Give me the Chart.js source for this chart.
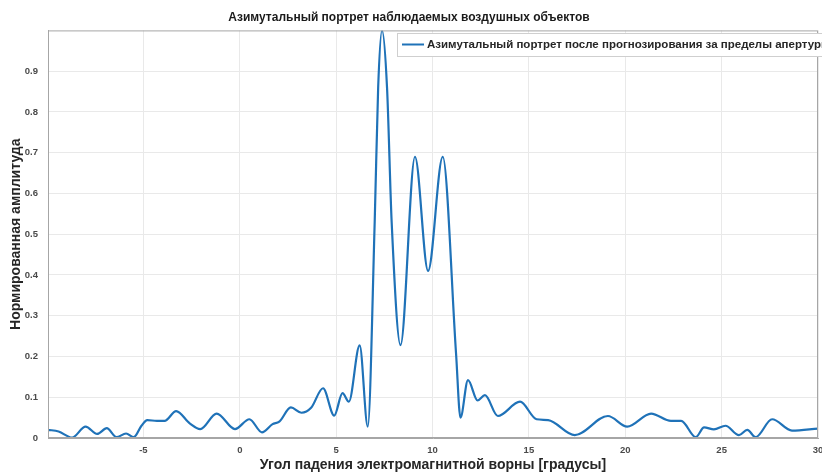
<!DOCTYPE html>
<html>
<head>
<meta charset="utf-8">
<script src="https://cdn.jsdelivr.net/npm/chart.js@4.4.1/dist/chart.umd.min.js"></script>
<style>
  html, body { margin: 0; padding: 0; background: #ffffff; }
  #wrap { width: 822px; height: 476px; }
</style>
</head>
<body>
<div id="wrap"><canvas id="c" width="822" height="476"></canvas></div>
<script>
// Texts
const chartTitle = 'Азимутальный портрет наблюдаемых воздушных объектов';
const xAxisTitle = 'Угол падения электромагнитной ворны [градусы]';
const yAxisTitle = 'Нормированная амплитуда';
const seriesLabel = 'Азимутальный портрет после прогнозирования за пределы апертуры';

// Angle of arrival, degrees
const angles = [
  -9.95, -9.4, -8.7, -8.0, -7.4, -6.9, -6.4, -5.9, -5.5, -5.1,
  -4.8, -4.3, -3.9, -3.3, -2.6, -2.05, -1.2, -0.25, 0.5, 1.15,
  1.7, 2.05, 2.65, 3.2, 3.7, 4.32, 4.9, 5.33, 5.66, 6.22,
  6.64, 7.0, 7.18, 7.38, 7.64, 7.88, 8.34, 9.09,
  9.77, 10.53, 11.22, 11.45, 11.84, 12.34, 12.72, 13.39,
  14.54, 15.4, 16.0, 17.38, 19.1, 20.1, 21.34, 22.37, 22.9, 23.66,
  24.09, 24.6, 25.2, 25.9, 26.33, 26.76, 27.62, 28.65, 30.0
];

// Normalised amplitude
const amplitudes = [
  0.020, 0.016, 0.001, 0.028, 0.010, 0.024, 0.002, 0.011, 0.002, 0.030,
  0.044, 0.042, 0.042, 0.066, 0.036, 0.022, 0.060, 0.022, 0.046, 0.014,
  0.034, 0.040, 0.075, 0.062, 0.074, 0.122, 0.055, 0.110, 0.089, 0.227,
  0.028, 0.530, 0.860, 1.000, 0.860, 0.530, 0.228, 0.690,
  0.410, 0.690, 0.208, 0.050, 0.142, 0.092, 0.105, 0.054,
  0.089, 0.046, 0.044, 0.007, 0.054, 0.028, 0.060, 0.042, 0.042, 0.002,
  0.026, 0.021, 0.030, 0.007, 0.020, 0.002, 0.046, 0.018, 0.023
];

// Tick labels
const xTickValues = [-5, 0, 5, 10, 15, 20, 25, 30];
const yTickValues = [0, 0.1, 0.2, 0.3, 0.4, 0.5, 0.6, 0.7, 0.8, 0.9];

const FONT = "'Liberation Sans', Arial, sans-serif";
const LINE_COLOR = '#1f72b8';

// Frame around the plotting area
const framePlugin = {
  id: 'frame',
  afterDatasetsDraw(chart) {
    const { ctx, chartArea: a } = chart;
    ctx.save();
    ctx.strokeStyle = '#a6a6a6';
    ctx.lineWidth = 1;
    ctx.strokeRect(a.left + 0.5, a.top + 0.5, a.right - a.left - 1, a.bottom - a.top - 1);
    ctx.restore();
  }
};

// Legend box in the upper right corner of the plot
const legendBoxPlugin = {
  id: 'legendBox',
  afterDraw(chart) {
    const { ctx } = chart;
    const ds = chart.data.datasets[0];
    const x = 397, y = 33, h = 23;
    ctx.save();
    ctx.fillStyle = '#ffffff';
    ctx.fillRect(x, y, chart.width - x + 10, h);
    ctx.strokeStyle = '#cfcfcf';
    ctx.lineWidth = 1;
    ctx.strokeRect(x + 0.5, y + 0.5, chart.width - x + 10, h);
    const cy = y + h / 2;
    ctx.strokeStyle = ds.borderColor;
    ctx.lineWidth = 2;
    ctx.beginPath();
    ctx.moveTo(x + 5, cy);
    ctx.lineTo(x + 27, cy);
    ctx.stroke();
    ctx.fillStyle = '#262626';
    ctx.font = "bold 11.5px " + FONT;
    ctx.textBaseline = 'middle';
    ctx.textAlign = 'left';
    ctx.fillText(ds.label, x + 30, cy + 0.5);
    ctx.restore();
  }
};

new Chart(document.getElementById('c'), {
  type: 'line',
  data: {
    datasets: [{
      label: seriesLabel,
      data: angles.map((a, i) => ({ x: a, y: amplitudes[i] })),
      borderColor: LINE_COLOR,
      backgroundColor: LINE_COLOR,
      borderWidth: 2.2,
      pointRadius: 0,
      cubicInterpolationMode: 'monotone',
      fill: false
    }]
  },
  options: {
    responsive: false,
    devicePixelRatio: 1,
    animation: false,
    layout: { padding: { left: 0, right: 4, top: 0, bottom: 0 } },
    plugins: {
      legend: { display: false },
      tooltip: { enabled: false },
      title: {
        display: true,
        text: chartTitle,
        color: '#1a1a1a',
        font: { family: FONT, size: 12, weight: 'bold' },
        padding: { top: 10, bottom: 6 }
      }
    },
    scales: {
      x: {
        type: 'linear',
        min: -9.95,
        max: 30,
        afterBuildTicks(scale) { scale.ticks = xTickValues.map(v => ({ value: v })); },
        afterFit(scale) { scale.height = 38; scale.paddingLeft = 0; scale.paddingRight = 0; },
        grid: { color: '#e9e9e9', drawTicks: false },
        border: { color: '#a6a6a6' },
        ticks: {
          color: '#4a4a4a',
          padding: 7,
          maxRotation: 0,
          font: { family: FONT, size: 9.5, weight: 'bold' },
          callback: v => String(v)
        },
        title: {
          display: true,
          text: xAxisTitle,
          color: '#262626',
          font: { family: FONT, size: 14, weight: 'bold' },
          padding: { top: 0, bottom: 2 }
        }
      },
      y: {
        type: 'linear',
        min: 0,
        max: 1,
        afterBuildTicks(scale) { scale.ticks = yTickValues.map(v => ({ value: v })); },
        afterFit(scale) { scale.width = 48; scale.paddingTop = 0; scale.paddingBottom = 0; },
        grid: { color: '#e9e9e9', drawTicks: false },
        border: { color: '#a6a6a6' },
        ticks: {
          color: '#4a4a4a',
          padding: 10,
          font: { family: FONT, size: 9.5, weight: 'bold' },
          callback: v => String(v)
        },
        title: {
          display: true,
          text: yAxisTitle,
          color: '#262626',
          font: { family: FONT, size: 14, weight: 'bold' },
          padding: { top: 8, bottom: 0 }
        }
      }
    }
  },
  plugins: [framePlugin, legendBoxPlugin]
});
</script>
</body>
</html>
